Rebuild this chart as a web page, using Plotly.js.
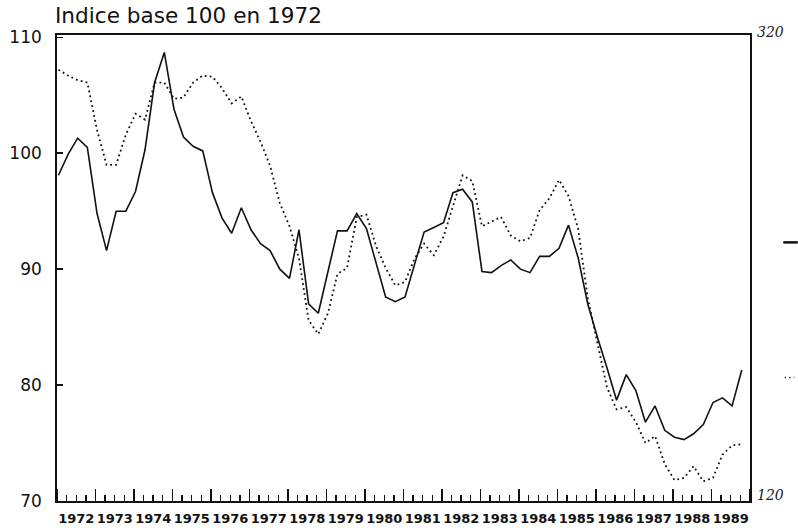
<!DOCTYPE html>
<html>
<head>
<meta charset="utf-8">
<script src="https://cdn.plot.ly/plotly-3.0.1.min.js"></script>
<style>
  html, body { margin: 0; padding: 0; background: #ffffff; }
  #chart { width: 798px; height: 528px; }
</style>
</head>
<body>
<div id="chart"></div>
<script>
// Years covered by the quarterly series
const years = [1972,1973,1974,1975,1976,1977,1978,1979,1980,1981,1982,1983,1984,1985,1986,1987,1988,1989];
const quarterMonths = ["01","04","07","10"];

// Solid line (index, base 100 in 1972), quarterly values
const solidSeries = [
  98.1, 99.9, 101.3, 100.5,
  94.8, 91.6, 95.0, 95.0,
  96.7, 100.3, 106.1, 108.7,
  103.8, 101.4, 100.6, 100.2,
  96.6, 94.4, 93.1, 95.3,
  93.4, 92.2, 91.6, 90.0,
  89.2, 93.4, 87.0, 86.2,
  89.8, 93.3, 93.3, 94.8,
  93.5, 90.5, 87.6, 87.2,
  87.6, 90.4, 93.2, 93.6,
  94.0, 96.6, 96.9, 95.8,
  89.8, 89.7, 90.3, 90.8,
  90.0, 89.7, 91.1, 91.1,
  91.8, 93.8, 91.0, 87.0,
  84.1, 81.5, 78.7, 80.9,
  79.5, 76.8, 78.2, 76.1,
  75.5, 75.3, 75.8, 76.6,
  78.5, 78.9, 78.2, 81.3
];

// Dotted line, quarterly values
const dottedSeries = [
  107.2, 106.7, 106.3, 106.1,
  102.0, 99.0, 99.0, 101.6,
  103.4, 102.9, 106.1, 106.1,
  104.7, 104.8, 106.1, 106.7,
  106.6, 105.6, 104.3, 104.9,
  102.75, 101.0, 98.9, 95.7,
  93.7, 90.9, 85.6, 84.4,
  86.2, 89.6, 90.1, 94.5,
  94.7, 92.0, 90.1, 88.6,
  88.9, 90.9, 92.2, 91.2,
  92.8, 95.5, 98.1, 97.6,
  93.7, 94.1, 94.5, 92.9,
  92.4, 92.7, 95.1, 96.1,
  97.7, 96.3, 93.5, 87.5,
  83.5, 79.8, 77.9, 78.1,
  76.8, 75.0, 75.6, 73.2,
  71.8, 72.0, 73.0, 71.7,
  72.0, 74.0, 74.8, 74.9
];

const yTickValues = [70, 80, 90, 100, 110];

// Quarter dates (category positions on the time axis)
const quarterDates = [];
years.forEach(function (y) {
  quarterMonths.forEach(function (m) { quarterDates.push(y + "-" + m + "-15"); });
});

const traces = [
  {
    x: quarterDates, y: dottedSeries, type: "scatter", mode: "lines",
    line: { color: "#111111", width: 1.8, dash: "1.8px,3.2px" },
    hoverinfo: "skip", showlegend: false
  },
  {
    x: quarterDates, y: solidSeries, type: "scatter", mode: "lines",
    line: { color: "#111111", width: 1.6 },
    hoverinfo: "skip", showlegend: false
  }
];

const layout = {
  width: 798, height: 528,
  paper_bgcolor: "#ffffff", plot_bgcolor: "#ffffff",
  margin: { l: 57, r: 48, t: 35, b: 27 },
  showlegend: false,
  title: {
    text: "Indice base 100 en 1972",
    font: { family: "DejaVu Sans, Arial, sans-serif", size: 21.6, color: "#111111" },
    xref: "container", yref: "container",
    x: 55 / 798, xanchor: "left",
    y: 1 - 15 / 528, yanchor: "middle"
  },
  xaxis: {
    type: "date",
    range: ["1972-01-01", "1990-01-01"],
    tick0: "1972-01-01", dtick: "M12",
    tickformat: "%Y", ticklabelmode: "period",
    tickangle: 0,
    ticks: "inside", ticklen: 12, tickwidth: 1.5, tickcolor: "#111111",
    minor: { dtick: "M3", ticks: "inside", ticklen: 6, tickwidth: 1.3, tickcolor: "#111111", showgrid: false },
    showgrid: false, zeroline: false,
    showline: true, linecolor: "#111111", linewidth: 1.8, mirror: true,
    ticklabelstandoff: 5,
    tickfont: { family: "DejaVu Sans, sans-serif", size: 13, color: "#111111", weight: "bold" },
    fixedrange: true
  },
  yaxis: {
    range: [70, 110.2],
    tickvals: yTickValues,
    ticktext: yTickValues.map(String),
    ticks: "inside", ticklen: 6, tickwidth: 1.5, tickcolor: "#111111",
    showgrid: false, zeroline: false,
    showline: true, linecolor: "#111111", linewidth: 1.8, mirror: true,
    ticklabelstandoff: 10,
    tickfont: { family: "DejaVu Sans, sans-serif", size: 17, color: "#111111" },
    fixedrange: true
  },
  annotations: [
    { text: "320", xref: "paper", yref: "paper", x: 1, y: 1, xanchor: "left", yanchor: "middle",
      xshift: 5, yshift: 3, showarrow: false,
      font: { family: "DejaVu Serif, serif", size: 14, color: "#222222", style: "italic" } },
    { text: "120", xref: "paper", yref: "paper", x: 1, y: 0, xanchor: "left", yanchor: "middle",
      xshift: 5, yshift: 6, showarrow: false,
      font: { family: "DejaVu Serif, serif", size: 14, color: "#222222", style: "italic" } }
  ],
  shapes: [
    { type: "line", xref: "paper", yref: "paper", x0: 1.048, x1: 1.069, y0: 0.555, y1: 0.555,
      line: { color: "#111111", width: 2.5 } },
    { type: "line", xref: "paper", yref: "paper", x0: 1.05, x1: 1.064, y0: 0.265, y1: 0.265,
      line: { color: "#333333", width: 1.6, dash: "1.5px,3px" } }
  ]
};

Plotly.newPlot("chart", traces, layout, { staticPlot: true, displayModeBar: false });
</script>
</body>
</html>
